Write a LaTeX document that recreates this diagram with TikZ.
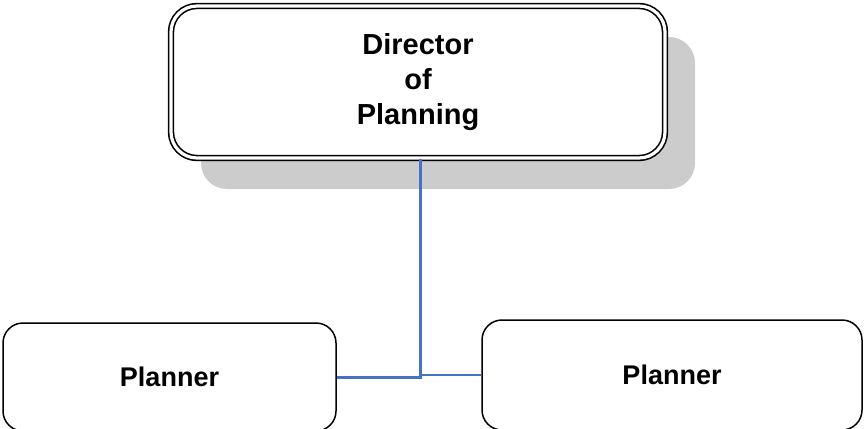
\documentclass[tikz,border=0pt]{standalone}
\usepackage{fontspec}
\setmainfont{Liberation Sans}
\usepackage{tikz}
\usetikzlibrary{positioning, calc, shadows}

\begin{document}
\begin{tikzpicture}[
    x=1pt, y=-1pt,
    post/.style={draw, rounded corners=20pt, line width=1.5pt, align=center, inner sep=0pt,
        font=\fontsize{27}{35}\selectfont\bfseries},
    head/.style={post, double, line width=1.6pt, double distance=3.2pt, rounded corners=26pt,
        font=\fontsize{29}{35}\selectfont\bfseries,
        drop shadow={shadow xshift=30pt, shadow yshift=-31pt, fill=black!20, opacity=1, draw=none}},
    link/.style={draw=linkblue, line width=3pt},
    thinlink/.style={draw=linkblue, line width=1.6pt}
]
\definecolor{linkblue}{RGB}{68,114,196}
\useasboundingbox (0,0) rectangle (864,428);
\clip (0,0) rectangle (864,428);

% Director
\node[head, fill=white, minimum width=494pt, minimum height=152pt] (director) at (418,82) {Director\\ of\\ Planning};

% Planners
\node[post, fill=white, minimum width=333pt, minimum height=108pt] (planleft) at (169.5,377) {Planner};
\node[post, fill=white, minimum width=380pt, minimum height=110pt] (planright) at (672,375) {Planner};

% Connectors
\coordinate (junction) at (420,377);
\draw[link] ($(director.south)+(2,0)$) -- (junction) -- (planleft.east |- junction);
\draw[thinlink] (junction |- planright.west) -- (planright.west);

\end{tikzpicture}
\end{document}
